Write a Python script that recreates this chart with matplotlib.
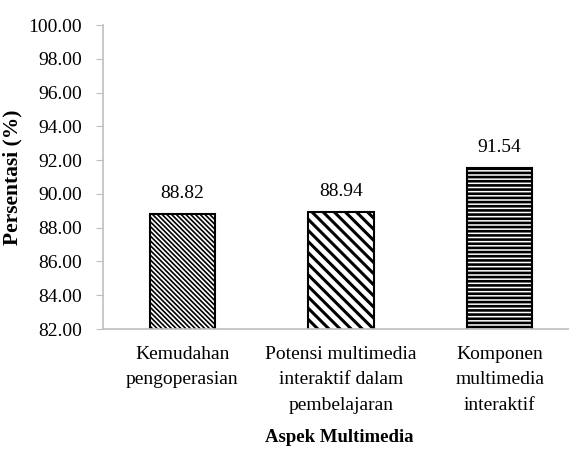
import numpy as np
import matplotlib
matplotlib.use("Agg")
from matplotlib import pyplot as plt

categories = ["Kemudahan\npengoperasian",
              "Potensi multimedia\ninteraktif dalam\npembelajaran",
              "Komponen\nmultimedia\ninteraktif"]
values = [88.82, 88.94, 91.54]
hatches = ["\\\\\\\\\\\\\\", "\\\\\\", "----"]
hatch_widths = [1.2, 2.2, 1.9]

plt.rcParams["font.family"] = ["Liberation Serif", "DejaVu Serif"]
plt.rcParams["hatch.color"] = "black"

fig = plt.figure(figsize=(5.69, 4.5), dpi=100)
# right edge of the plot area runs past the figure, as in the reference
ax = fig.add_axes([103 / 569, 121 / 450, 476 / 569, 304 / 450])

x = np.arange(len(categories))
for i in range(len(categories)):
    plt.rcParams["hatch.linewidth"] = hatch_widths[i]
    bars = ax.bar(x[i], values[i], 0.41, bottom=0, color="white",
                  edgecolor="black", linewidth=1.5, hatch=hatches[i])
    for b in bars:
        try:
            b.set_hatch_linewidth(hatch_widths[i])
        except AttributeError:
            pass
    ax.text(x[i], values[i] + 0.7, "%.2f" % values[i], ha="center", va="bottom",
            fontsize=14)

ax.set_xlim(-0.5, 2.5)
ax.set_ylim(82, 100)
ax.set_yticks(np.arange(82, 100.1, 2))
ax.set_yticklabels(["%.2f" % v for v in np.arange(82, 100.1, 2)])
ax.set_xticks(x)
ax.set_xticklabels(categories, linespacing=1.66)

for s in ["top", "right"]:
    ax.spines[s].set_visible(False)
for s in ["left", "bottom"]:
    ax.spines[s].set_color("#bfbfbf")
    ax.spines[s].set_linewidth(1.2)

ax.tick_params(axis="y", colors="#bfbfbf", labelcolor="black", length=5,
               labelsize=14, pad=10)
ax.tick_params(axis="x", length=0, labelsize=14, pad=12)

ax.set_ylabel("Persentasi (%)", fontsize=15.5, fontweight="bold")
ax.yaxis.set_label_coords(-81 / 476, 0.5)
ax.set_xlabel("Aspek Multimedia", fontsize=13.5, fontweight="bold")
ax.xaxis.label.set_va("center")
ax.xaxis.set_label_coords(236.5 / 476, -108 / 304)

fig.savefig("out.png", dpi=100)
